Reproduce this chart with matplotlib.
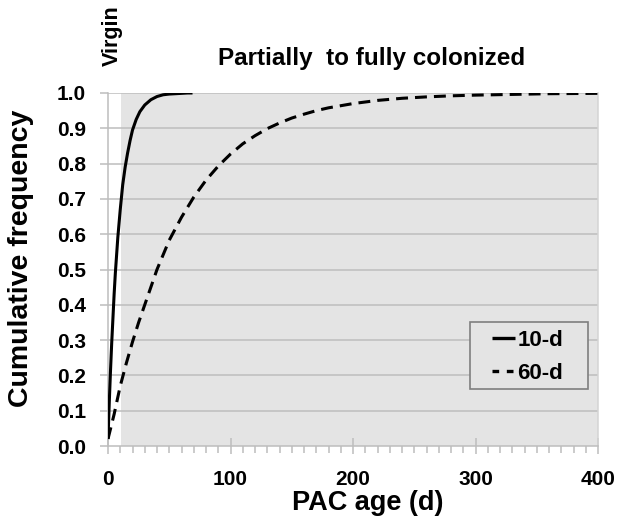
import matplotlib
matplotlib.use("Agg")
import matplotlib.pyplot as plt
from matplotlib.ticker import MultipleLocator
from matplotlib.lines import Line2D
from matplotlib.patches import Rectangle

plt.rcParams['font.family'] = ['Liberation Sans', 'DejaVu Sans']
plt.rcParams['font.weight'] = 'bold'

# Data
days_10 = [0, 1, 2, 3, 4, 5, 6, 8, 10, 12, 14, 16, 18, 20, 23, 26, 30, 35, 40,
           45, 50, 55, 60, 65, 69]
freq_10 = [0.02, 0.12, 0.21, 0.29, 0.36, 0.43, 0.49, 0.59, 0.67, 0.74, 0.79,
           0.83, 0.865, 0.895, 0.925, 0.947, 0.966, 0.981, 0.99, 0.995, 0.997,
           0.998, 0.999, 1.0, 1.0]
days_60 = [0, 5, 10, 15, 20, 25, 30, 40, 50, 60, 70, 80, 90, 100, 110, 120, 130,
           140, 150, 160, 170, 180, 200, 220, 240, 260, 280, 300, 330, 360, 400]
freq_60 = [0.02, 0.09, 0.17, 0.235, 0.295, 0.35, 0.40, 0.50, 0.583, 0.648,
           0.705, 0.753, 0.793, 0.827, 0.856, 0.879, 0.899, 0.915, 0.929, 0.94,
           0.95, 0.958, 0.97, 0.979, 0.985, 0.989, 0.992, 0.994, 0.996, 0.998,
           0.999]
virgin_end = 11
x_max = 400
series_labels = ['10-d', '60-d']
y_ticks = [0.0, 0.1, 0.2, 0.3, 0.4, 0.5, 0.6, 0.7, 0.8, 0.9, 1.0]
x_ticks = [0, 100, 200, 300, 400]

W, H = 618, 517
fig = plt.figure(figsize=(W / 100, H / 100), dpi=100)
ax = fig.add_axes([108 / W, 1 - 446 / H, 490 / W, 353 / H])

grid_c = '#bdbdbd'
bg_c = '#e4e4e4'
ax.axvspan(virgin_end, x_max, ymin=0, ymax=1, color=bg_c, zorder=0, lw=0)
for y in y_ticks[1:]:
    ax.axhline(y, color=grid_c, lw=1.1, zorder=1)

dash = (0, (3.9, 2.3))
ax.plot(days_10, freq_10, color='black', lw=2.2, zorder=3,
        solid_capstyle='butt')
ax.plot(days_60, freq_60, color='black', lw=2.2, ls=dash, zorder=3)

ax.set_xlim(0, x_max)
ax.set_ylim(0, 1.0)
ax.set_yticks(y_ticks)
ax.set_yticklabels([f'{v:.1f}' for v in y_ticks])
ax.set_xticks(x_ticks)
ax.xaxis.set_minor_locator(MultipleLocator(10))

ax.spines['top'].set_visible(False)
ax.spines['left'].set_color(grid_c)
ax.spines['bottom'].set_color(grid_c)
ax.spines['right'].set_color('#d4d4d4')
for s in ['left', 'bottom', 'right']:
    ax.spines[s].set_linewidth(1.1)
ax.patch.set_facecolor('white')

ax.tick_params(axis='y', which='major', direction='out', length=6, color=grid_c,
               width=1.1, labelsize=15, pad=10)
ax.tick_params(axis='x', which='major', direction='inout', length=12, color=grid_c,
               width=1.1, labelsize=15, pad=11)
ax.tick_params(axis='x', which='minor', direction='out', length=5, color=grid_c,
               width=1.1)
for lab in ax.get_xticklabels() + ax.get_yticklabels():
    lab.set_fontweight('bold')

ax.set_xlabel('PAC age (d)', fontsize=19.5, fontweight='bold')
ax.xaxis.set_label_coords((368 - 108) / 490, (446 - 490) / 353)
ax.set_ylabel('Cumulative frequency', fontsize=20.5, fontweight='bold')
ax.yaxis.set_label_coords((34 - 108) / 490, (446 - 258) / 353)

fig.text(372 / W, 1 - 58 / H, 'Partially  to fully colonized', ha='center',
         va='center', fontsize=17.5, fontweight='bold')
fig.text(112 / W, 1 - 36 / H, 'Virgin', ha='center', va='center', rotation=90,
         fontsize=15.5, fontweight='bold')

# legend frame
ax.add_patch(Rectangle((470 / W, 1 - 389 / H), 118 / W, 67 / H,
                       transform=fig.transFigure, facecolor=bg_c,
                       edgecolor='#7f7f7f', lw=1.2, zorder=5, clip_on=False))
handles = [Line2D([], [], color='black', lw=2.4, solid_capstyle='butt'),
           Line2D([], [], color='black', lw=2.4, ls=(0, (2.0, 2.3)))]
leg = ax.legend(handles, series_labels, loc='upper left',
                bbox_to_anchor=((492 - 108) / 490, (446 - 330) / 353),
                frameon=False, handlelength=1.05, handletextpad=0.1,
                borderpad=0, borderaxespad=0, labelspacing=0.55,
                prop={'weight': 'bold', 'size': 16})
leg.set_zorder(6)

fig.savefig('out.png', dpi=100)
